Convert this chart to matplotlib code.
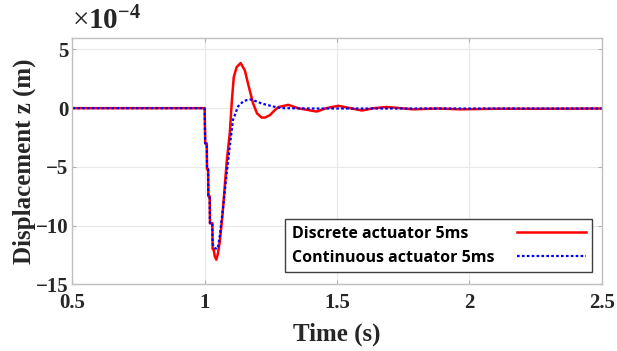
import numpy as np
import matplotlib.pyplot as plt

# values, displacement in units of 1e-4 m
t_disc = [0.5, 1.0, 1.002, 1.008, 1.009, 1.013, 1.014, 1.019, 1.02, 1.029, 1.03, 1.034,
          1.038, 1.044, 1.05, 1.057, 1.067, 1.076, 1.084, 1.095, 1.103, 1.11, 1.121,
          1.136, 1.152, 1.167, 1.183, 1.198, 1.215, 1.228, 1.246, 1.265, 1.28, 1.316,
          1.352, 1.423, 1.46, 1.505, 1.55, 1.594, 1.64, 1.688, 1.74, 1.788, 1.88,
          1.966, 2.1, 2.3, 2.5]
z_disc = [0, 0, -3.0, -3.0, -5.2, -5.2, -7.5, -7.5, -9.8, -9.8, -12.0, -12.0,
          -12.6, -12.9, -12.4, -11.4, -9.2, -6.6, -4.4, -2.1, 0.7, 2.65, 3.5,
          3.84, 3.2, 1.8, 0.4, -0.45, -0.8, -0.8, -0.6, -0.17, 0.1, 0.28,
          0.0, -0.29, 0.0, 0.2, 0.0, -0.2, 0.0, 0.1, 0.0, -0.1, -0.03,
          -0.1, -0.05, -0.05, -0.03]

t_cont = [0.5, 1.0, 1.002, 1.008, 1.009, 1.013, 1.014, 1.019, 1.02, 1.029, 1.03, 1.034,
          1.038, 1.046, 1.051, 1.057, 1.063, 1.069, 1.082, 1.095, 1.107, 1.126,
          1.145, 1.158, 1.177, 1.215, 1.259, 1.29, 1.4, 2.5]
z_cont = [0, 0, -3.0, -3.0, -5.2, -5.2, -7.5, -7.5, -9.8, -9.8, -11.5, -11.8,
          -11.9, -12.0, -11.75, -10.9, -9.7, -8.6, -5.8, -3.25, -1.0, 0.14,
          0.56, 0.68, 0.74, 0.4, 0.14, 0.0, -0.03, -0.03]

x_ticks = [0.5, 1, 1.5, 2, 2.5]
y_ticks = [-15, -10, -5, 0, 5]

serif = 'Liberation Serif'
plt.rcParams['mathtext.fontset'] = 'custom'
plt.rcParams['mathtext.rm'] = serif
plt.rcParams['mathtext.bf'] = serif + ':bold'

fig = plt.figure(figsize=(6.17, 3.51), dpi=100)
ax = fig.add_axes([0.1172, 0.190, 0.858, 0.7026])

ax.plot(t_disc, z_disc, color='#ff0000', lw=1.8, label='Discrete actuator 5ms')
ax.plot(t_cont, z_cont, color='#0000ff', lw=1.6, ls=(0, (1.2, 1.0)),
        label='Continuous actuator 5ms')

ax.set_xlim(0.5, 2.5)
ax.set_ylim(-15, 6)
ax.set_xticks(x_ticks)
ax.set_xticklabels(['0.5', '1', '1.5', '2', '2.5'])
ax.set_yticks(y_ticks)
ax.grid(True, color='#e8e8e8', lw=0.8)
ax.set_axisbelow(True)

for s in ax.spines.values():
    s.set_color('#c0c0c0')
    s.set_linewidth(1.0)
ax.tick_params(direction='in', length=3, color='#b0b0b0', top=True, right=True,
               labelsize=15)
ax.tick_params(axis='x', pad=6)
ax.tick_params(axis='y', pad=3)
for lab in ax.get_xticklabels() + ax.get_yticklabels():
    lab.set_fontfamily(serif)
    lab.set_fontweight('bold')
    lab.set_color('#262626')

ax.set_xlabel('Time (s)', fontfamily=serif, fontweight='bold', fontsize=18,
              color='#262626', labelpad=7)
ax.set_ylabel('Displacement z (m)', fontfamily=serif, fontweight='bold', fontsize=18,
              color='#262626', labelpad=0)

fig.text(0.117, 0.9, '×' + r'$\mathbf{10^{-4}}$', fontsize=21, color='#262626',
         family=serif, ha='left', va='bottom')

leg = ax.legend(loc='lower right', bbox_to_anchor=(0.9817, 0.049), markerfirst=False,
                handlelength=4.3, fancybox=False, framealpha=1, edgecolor='#404040',
                prop={'family': 'Open Sans', 'weight': 'bold', 'size': 11.5},
                borderpad=0.4, borderaxespad=0, labelspacing=0.5, handletextpad=1.5)
leg.get_frame().set_linewidth(1.0)
# keep labels left aligned and handles flush right, as in the reference
col = leg._legend_handle_box.get_children()[0]
col.width = 294
col.align = 'left'
for row in col.get_children():
    row.mode = 'expand'

fig.savefig('out.png', dpi=100)
